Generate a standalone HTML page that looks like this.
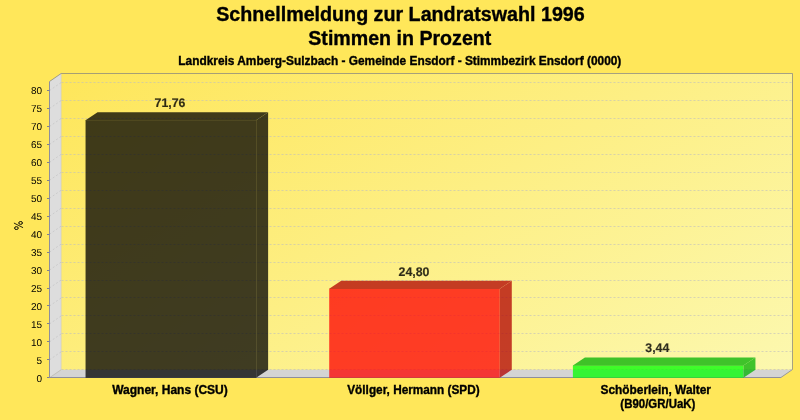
<!DOCTYPE html><html><head><meta charset="utf-8"><style>html,body{margin:0;padding:0;background:#FFE75A;width:800px;height:420px;overflow:hidden}#w{position:absolute;left:0;top:0;width:800px;height:420px;will-change:transform}svg{display:block}text{font-family:"Liberation Sans",sans-serif}.b{stroke:#000;stroke-width:0.35px}</style></head><body><div id="w">
<svg width="800" height="420" viewBox="0 0 800 420">
<defs><linearGradient id="pg" gradientUnits="userSpaceOnUse" x1="61" y1="73" x2="381" y2="613"><stop offset="0" stop-color="#FEE65A"/><stop offset="1" stop-color="#FCF8AF"/></linearGradient></defs>
<rect x="0" y="0" width="800" height="420" fill="#FFE75A"/>
<text x="400.45" y="20.5" font-size="20" class="b" font-weight="bold" text-anchor="middle" textLength="368.6" lengthAdjust="spacingAndGlyphs" fill="#000">Schnellmeldung zur Landratswahl 1996</text>
<text x="399.8" y="45.4" font-size="20" class="b" font-weight="bold" text-anchor="middle" textLength="183" lengthAdjust="spacingAndGlyphs" fill="#000">Stimmen in Prozent</text>
<text x="399.8" y="64.6" font-size="12" class="b" font-weight="bold" text-anchor="middle" textLength="443" lengthAdjust="spacingAndGlyphs" fill="#000">Landkreis Amberg-Sulzbach - Gemeinde Ensdorf - Stimmbezirk Ensdorf (0000)</text>
<rect x="61.1" y="73.0" width="731.4" height="296.78" fill="url(#pg)"/>
<polygon points="49.5,81.5 61.1,73.5 61.1,369.78 49.5,377.78" fill="#DDDDDD"/>
<polygon points="49.5,377.78 61.1,369.78 792.5,369.78 780.9,377.78" fill="#D4D4D4"/>
<path d="M49.5,377.78 L61.1,369.78" stroke="#C0C0C0" stroke-width="1" fill="none"/>
<path d="M61.1,369.78 L61.1,73.0" stroke="#C8C8D0" stroke-width="0.6" fill="none"/>
<path d="M61.5,369.50 L792.5,369.50 M61.5,351.50 L792.5,351.50 M49.5,359.83 L61.1,351.83 M61.5,333.50 L792.5,333.50 M49.5,341.88 L61.1,333.88 M61.5,315.50 L792.5,315.50 M49.5,323.93 L61.1,315.93 M61.5,297.50 L792.5,297.50 M49.5,305.98 L61.1,297.98 M61.5,280.50 L792.5,280.50 M49.5,288.03 L61.1,280.03 M61.5,262.50 L792.5,262.50 M49.5,270.08 L61.1,262.08 M61.5,244.50 L792.5,244.50 M49.5,252.13 L61.1,244.13 M61.5,226.50 L792.5,226.50 M49.5,234.18 L61.1,226.18 M61.5,208.50 L792.5,208.50 M49.5,216.23 L61.1,208.23 M61.5,190.50 L792.5,190.50 M49.5,198.28 L61.1,190.28 M61.5,172.50 L792.5,172.50 M49.5,180.33 L61.1,172.33 M61.5,154.50 L792.5,154.50 M49.5,162.38 L61.1,154.38 M61.5,136.50 L792.5,136.50 M49.5,144.43 L61.1,136.43 M61.5,118.50 L792.5,118.50 M49.5,126.48 L61.1,118.48 M61.5,100.50 L792.5,100.50 M49.5,108.53 L61.1,100.53 M61.5,82.50 L792.5,82.50 M49.5,90.58 L61.1,82.58" stroke="#BDBDC0" stroke-width="0.6" stroke-dasharray="2 2" fill="none"/>
<path d="M49.5,81.5 L61.1,73.5 L792.5,73.5 L792.5,369.5 L780.9,377.5" fill="none" stroke="#808080" stroke-width="0.7"/>
<path d="M49.5,81.5 L49.5,377.5 L780.9,377.5" fill="none" stroke="#8E8E9C" stroke-width="1"/>
<text x="42" y="382" font-size="10" text-anchor="end" text-rendering="geometricPrecision" fill="#000">0</text>
<text x="42" y="364" font-size="10" text-anchor="end" text-rendering="geometricPrecision" fill="#000">5</text>
<text x="42" y="346" font-size="10" text-anchor="end" text-rendering="geometricPrecision" fill="#000">10</text>
<text x="42" y="328" font-size="10" text-anchor="end" text-rendering="geometricPrecision" fill="#000">15</text>
<text x="42" y="310" font-size="10" text-anchor="end" text-rendering="geometricPrecision" fill="#000">20</text>
<text x="42" y="292" font-size="10" text-anchor="end" text-rendering="geometricPrecision" fill="#000">25</text>
<text x="42" y="274" font-size="10" text-anchor="end" text-rendering="geometricPrecision" fill="#000">30</text>
<text x="42" y="256" font-size="10" text-anchor="end" text-rendering="geometricPrecision" fill="#000">35</text>
<text x="42" y="238" font-size="10" text-anchor="end" text-rendering="geometricPrecision" fill="#000">40</text>
<text x="42" y="220" font-size="10" text-anchor="end" text-rendering="geometricPrecision" fill="#000">45</text>
<text x="42" y="202" font-size="10" text-anchor="end" text-rendering="geometricPrecision" fill="#000">50</text>
<text x="42" y="184" font-size="10" text-anchor="end" text-rendering="geometricPrecision" fill="#000">55</text>
<text x="42" y="166" font-size="10" text-anchor="end" text-rendering="geometricPrecision" fill="#000">60</text>
<text x="42" y="148" font-size="10" text-anchor="end" text-rendering="geometricPrecision" fill="#000">65</text>
<text x="42" y="130" font-size="10" text-anchor="end" text-rendering="geometricPrecision" fill="#000">70</text>
<text x="42" y="112" font-size="10" text-anchor="end" text-rendering="geometricPrecision" fill="#000">75</text>
<text x="42" y="94" font-size="10" text-anchor="end" text-rendering="geometricPrecision" fill="#000">80</text>
<path d="M47,377.50 L49.5,377.50 M47,359.50 L49.5,359.50 M47,341.50 L49.5,341.50 M47,323.50 L49.5,323.50 M47,305.50 L49.5,305.50 M47,288.50 L49.5,288.50 M47,270.50 L49.5,270.50 M47,252.50 L49.5,252.50 M47,234.50 L49.5,234.50 M47,216.50 L49.5,216.50 M47,198.50 L49.5,198.50 M47,180.50 L49.5,180.50 M47,162.50 L49.5,162.50 M47,144.50 L49.5,144.50 M47,126.50 L49.5,126.50 M47,108.50 L49.5,108.50 M47,90.50 L49.5,90.50" stroke="#80808E" stroke-width="1" fill="none"/>
<g fill="none" stroke="#000"><ellipse cx="20.6" cy="222.95" rx="1.85" ry="1.4" stroke-width="1.0"/><ellipse cx="16.4" cy="228.1" rx="1.85" ry="1.4" stroke-width="1.0"/><path d="M14.3,223.2 L22.7,227.5" stroke-width="0.85" stroke-linecap="round"/></g>
<g opacity="0.75">
<rect x="85.55" y="120.16" width="170.57" height="257.62" fill="#000000"/>
<polygon points="256.12,120.16 256.12,120.16 268.12,112.16 268.12,369.78 256.12,377.78" fill="#000000"/>
<polygon points="85.55,120.46 85.55,120.16 97.55,112.16 268.12,112.16 256.12,120.16 256.12,120.46" fill="#000000"/>
</g>
<g opacity="0.75">
<rect x="329.22" y="288.75" width="170.57" height="89.03" fill="#FF0000"/>
<polygon points="499.79,288.75 499.79,288.75 511.79,280.75 511.79,369.78 499.79,377.78" fill="#B20000"/>
<polygon points="329.22,289.05 329.22,288.75 341.22,280.75 511.79,280.75 499.79,288.75 499.79,289.05" fill="#B20000"/>
</g>
<g opacity="0.75">
<rect x="572.89" y="365.43" width="170.57" height="12.35" fill="#00FF00"/>
<polygon points="743.46,365.43 743.46,365.43 755.46,357.43 755.46,369.78 743.46,377.78" fill="#00B200"/>
<polygon points="572.89,365.73 572.89,365.43 584.89,357.43 755.46,357.43 743.46,365.43 743.46,365.73" fill="#00B200"/>
</g>
<text transform="translate(170.0,107)" x="0" y="0" font-size="12.5" font-weight="bold" text-rendering="geometricPrecision" text-anchor="middle" textLength="30.8" lengthAdjust="spacingAndGlyphs" fill="#000" stroke="#000" stroke-width="0.2" opacity="0.82">71,76</text>
<text transform="translate(414,276)" x="0" y="0" font-size="12.5" font-weight="bold" text-rendering="geometricPrecision" text-anchor="middle" textLength="31" lengthAdjust="spacingAndGlyphs" fill="#000" stroke="#000" stroke-width="0.2" opacity="0.82">24,80</text>
<text transform="translate(657.3,352)" x="0" y="0" font-size="12.5" font-weight="bold" text-rendering="geometricPrecision" text-anchor="middle" textLength="24" lengthAdjust="spacingAndGlyphs" fill="#000" stroke="#000" stroke-width="0.2" opacity="0.82">3,44</text>
<text x="170" y="394" font-size="12" class="b" font-weight="bold" text-anchor="middle" fill="#000">Wagner, Hans (CSU)</text>
<text x="413.45" y="394" font-size="12" class="b" font-weight="bold" text-anchor="middle" textLength="132.4" lengthAdjust="spacingAndGlyphs" fill="#000">Völlger, Hermann (SPD)</text>
<text x="655.75" y="394" font-size="12" class="b" font-weight="bold" text-anchor="middle" textLength="110.5" lengthAdjust="spacingAndGlyphs" fill="#000">Schöberlein, Walter</text>
<text x="657.85" y="408" font-size="12" class="b" font-weight="bold" text-anchor="middle" textLength="75" lengthAdjust="spacingAndGlyphs" fill="#000">(B90/GR/UaK)</text>
</svg></div></body></html>
